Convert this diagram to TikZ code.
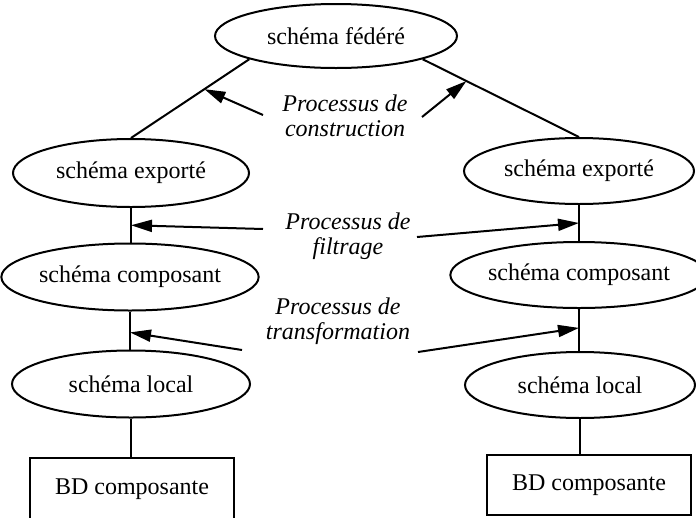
\documentclass[tikz,border=0pt]{standalone}
\usepackage{fontspec}
\setmainfont{Liberation Serif}
\usetikzlibrary{shapes.geometric,arrows.meta,calc}
\begin{document}
\begin{tikzpicture}[x=1pt,y=-1pt,
  every node/.style={font=\fontsize{24}{25}\selectfont},
  ell/.style={draw, ellipse, line width=2pt, inner sep=0pt},
  bdbox/.style={draw, rectangle, line width=2pt, inner sep=0pt},
  conn/.style={line width=2pt},
  proc/.style={line width=2pt, -{Triangle[length=21pt,width=12pt]}},
  lbl/.style={align=center, font=\itshape\fontsize{24}{25}\selectfont}]
\useasboundingbox (0,0) rectangle (696,517);
\clip (0,0) rectangle (696,517);

% schema nodes
\node[ell, minimum width=242pt, minimum height=64pt] (fed) at (336,36) {schéma fédéré};
\node[ell, minimum width=236pt, minimum height=68pt] (expL) at (131,173) {schéma exporté};
\node[ell, minimum width=230pt, minimum height=66pt] (expR) at (579,171) {schéma exporté};
\node[ell, minimum width=236pt, minimum height=67pt] (compL) at (130,277) {schéma composant};
\node[ell, minimum width=228pt, minimum height=66pt] (compR) at (579,275) {schéma composant};
\node[ell, minimum width=238pt, minimum height=67pt] (locL) at (131,384) {schéma local};
\node[ell, minimum width=230pt, minimum height=66pt] (locR) at (580,385) {schéma local};
\node[bdbox, minimum width=204pt, minimum height=62pt] (boxL) at (132,489) {BD composante};
\node[bdbox, minimum width=204pt, minimum height=60pt] (boxR) at (589,485) {BD composante};

% labels
\node[lbl] (tC) at (345,116) {Processus de\\construction};
\node[lbl] (tF) at (348,236) {Processus de\\filtrage};
\node[lbl] (tT) at (338,321) {Processus de\\transformation};

% connectors
\draw[conn] (fed.195) -- (expL.north);
\draw[conn] (fed.345) -- (expR.north);
\draw[conn] (expL.south) -- (expL.south |- compL.north);
\draw[conn] (expR.south) -- (expR.south |- compR.north);
\draw[conn] (compL.south) -- (compL.south |- locL.north);
\draw[conn] (compR.south) -- (compR.south |- locR.north);
\draw[conn] (locL.south) -- (locL.south |- boxL.north);
\draw[conn] (locR.south) -- (locR.south |- boxR.north);

% arrow targets and free ends
\coordinate (cL) at ($(fed.195)!0.38!(expL.north)$);
\coordinate (cR) at ($(fed.345)!0.28!(expR.north)$);
\coordinate (fL) at ($(expL.south)!0.5!(expL.south |- compL.north)$);
\coordinate (fR) at ($(expR.south)!0.5!(expR.south |- compR.north)$);
\coordinate (trL) at ($(compL.south)!0.55!(compL.south |- locL.north)$);
\coordinate (trR) at ($(compR.south)!0.45!(compR.south |- locR.north)$);
\coordinate (cLs) at (263,115);
\coordinate (cRs) at (422,117);
\coordinate (fLs) at (263,229);
\coordinate (fRs) at (417,237);
\coordinate (trLs) at (242,350);
\coordinate (trRs) at (418,352);

\draw[proc] (cLs) -- (cL);
\draw[proc] (cRs) -- (cR);
\draw[proc] (fLs) -- (fL);
\draw[proc] (fRs) -- (fR);
\draw[proc] (trLs) -- (trL);
\draw[proc] (trRs) -- (trR);
\end{tikzpicture}
\end{document}
